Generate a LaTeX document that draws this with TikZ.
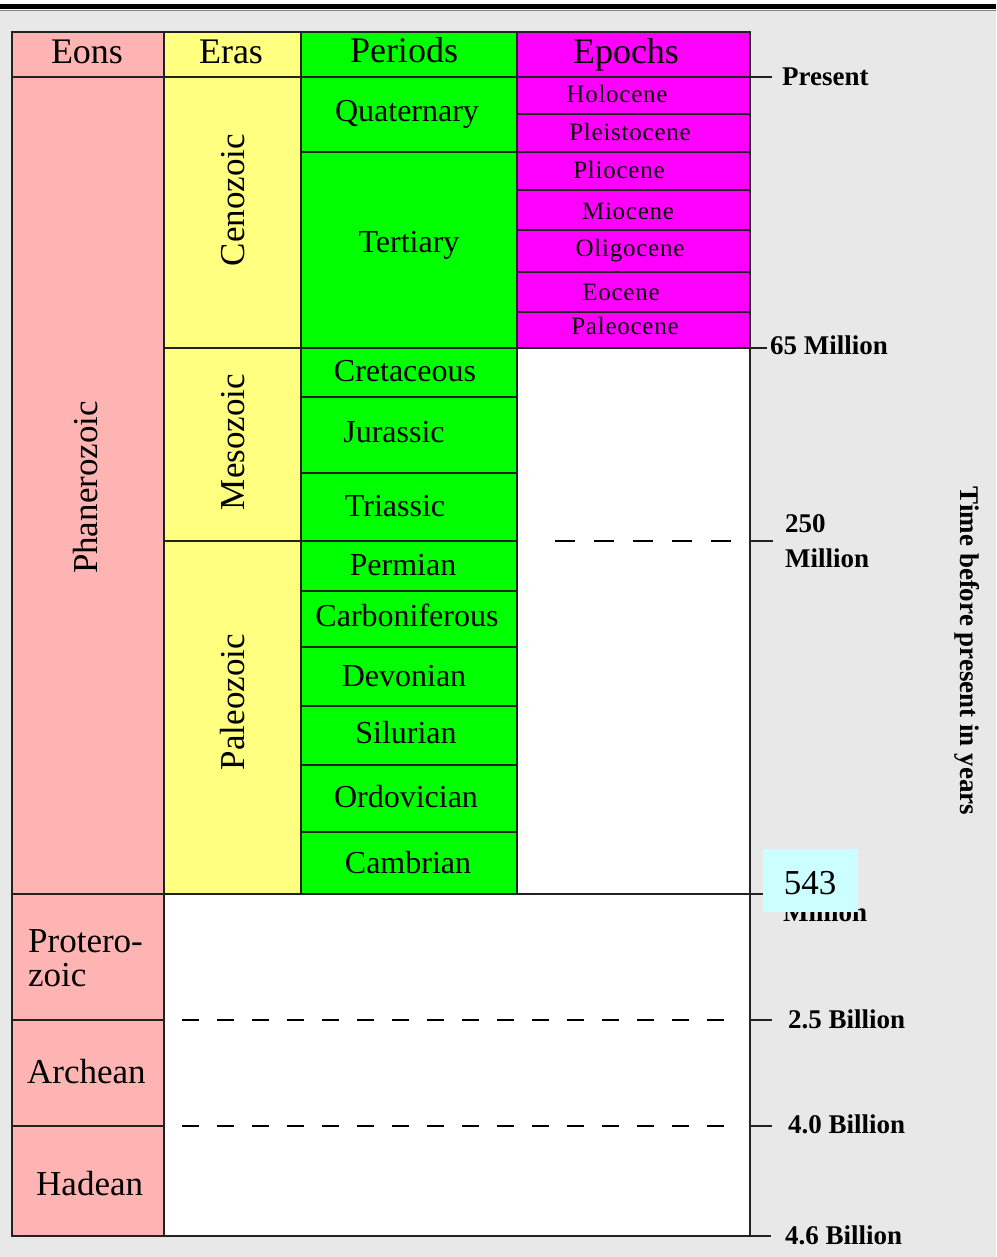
\documentclass[tikz,border=0pt]{standalone}
\usepackage{fontspec}
\setmainfont{Liberation Serif}
\definecolor{eon}{HTML}{FFB4B4}
\definecolor{era}{HTML}{FFFF80}
\definecolor{per}{HTML}{00FF00}
\definecolor{epo}{HTML}{FF00FF}
\definecolor{bg}{HTML}{E8E8E8}
\definecolor{note}{HTML}{CCFFFF}
\definecolor{rule}{HTML}{222222}
\begin{document}
\begin{tikzpicture}[x=1pt,y=-1pt,
  cell/.style={draw=rule,line width=1.3pt},
  txt/.style={inner sep=0, text depth=0pt},
  hdr/.style={txt, text height=23.8pt, font=\fontsize{36}{40}\selectfont},
  eontxt/.style={txt, text height=23.1pt, font=\fontsize{35}{34}\selectfont, anchor=west, align=left},
  bigtxt/.style={txt, text height=23.1pt, font=\fontsize{35}{40}\selectfont},
  eratxt/.style={bigtxt, rotate=90},
  pertxt/.style={txt, text height=21.1pt, font=\fontsize{32}{36}\selectfont},
  epotxt/.style={txt, text height=16.5pt, font=\fontsize{25}{30}\selectfont\addfontfeature{LetterSpace=3}},
  boldtxt/.style={txt, text height=17.8pt, font=\fontsize{27}{30}\selectfont\bfseries},
  agetxt/.style={boldtxt, anchor=west},
  tickline/.style={draw=rule, line width=1.3pt},
  gapline/.style={draw=black, line width=1.3pt, dash pattern=on 17pt off 18pt},
]
\useasboundingbox (0,0) rectangle (996,1257);
% page background
\fill[white] (0,0) rectangle (996,1257);
\fill[black] (0,4.5) rectangle (996,9.5);
\fill[bg] (0,10) rectangle (996,1257);
\draw[gray, line width=0.8pt] (0,10.2) -- (996,10.2);

% headers
\path[cell, fill=eon] (12,32) rectangle (164,77);
\path[cell, fill=era] (164,32) rectangle (301,77);
\path[cell, fill=per] (301,32) rectangle (517,77);
\path[cell, fill=epo] (517,32) rectangle (750,77);
\node[hdr] (heons) at (87,52) {Eons};
\node[hdr] (heras) at (231,52) {Eras};
\node[hdr] (hperiods) at (404,51) {Periods};
\node[hdr] (hepochs) at (626,52) {Epochs};

% eons
\path[cell, fill=eon] (12,77) rectangle (164,894);
\path[cell, fill=eon] (12,894) rectangle (164,1020);
\path[cell, fill=eon] (12,1020) rectangle (164,1126);
\path[cell, fill=eon] (12,1126) rectangle (164,1236);
\node[bigtxt, rotate=90] (phanerozoic) at (86,487.5) {Phanerozoic};
\node[eontxt] (proterozoic) at (28,975) {Protero-\\zoic};
\node[eontxt] (archean) at (27,1072) {Archean};
\node[eontxt] (hadean) at (36,1183.5) {Hadean};

% eras
\path[cell, fill=era] (164,77) rectangle (301,348);
\path[cell, fill=era] (164,348) rectangle (301,541);
\path[cell, fill=era] (164,541) rectangle (301,894);
\node[eratxt] (cenozoic) at (232.5,200) {Cenozoic};
\node[eratxt] (mesozoic) at (232.5,442) {Mesozoic};
\node[eratxt] (paleozoic) at (232.5,702) {Paleozoic};

% periods
\path[cell, fill=per] (301,77) rectangle (517,152);
\path[cell, fill=per] (301,152) rectangle (517,348);
\path[cell, fill=per] (301,348) rectangle (517,397);
\path[cell, fill=per] (301,397) rectangle (517,473);
\path[cell, fill=per] (301,473) rectangle (517,541);
\path[cell, fill=per] (301,541) rectangle (517,591);
\path[cell, fill=per] (301,591) rectangle (517,647);
\path[cell, fill=per] (301,647) rectangle (517,706);
\path[cell, fill=per] (301,706) rectangle (517,765);
\path[cell, fill=per] (301,765) rectangle (517,832);
\path[cell, fill=per] (301,832) rectangle (517,894);
\node[pertxt] (quaternary) at (407,111) {Quaternary};
\node[pertxt] (tertiary) at (409,242) {Tertiary};
\node[pertxt] (cretaceous) at (405,371) {Cretaceous};
\node[pertxt] (jurassic) at (394,432) {Jurassic};
\node[pertxt] (triassic) at (395,506) {Triassic};
\node[pertxt] (permian) at (403,565) {Permian};
\node[pertxt] (carboniferous) at (407,616) {Carboniferous};
\node[pertxt] (devonian) at (404,676) {Devonian};
\node[pertxt] (silurian) at (406,733) {Silurian};
\node[pertxt] (ordovician) at (406,797) {Ordovician};
\node[pertxt] (cambrian) at (408,863) {Cambrian};

% epochs
\path[cell, fill=epo] (517,77) rectangle (750,114);
\path[cell, fill=epo] (517,114) rectangle (750,152);
\path[cell, fill=epo] (517,152) rectangle (750,190);
\path[cell, fill=epo] (517,190) rectangle (750,230);
\path[cell, fill=epo] (517,230) rectangle (750,272);
\path[cell, fill=epo] (517,272) rectangle (750,312);
\path[cell, fill=epo] (517,312) rectangle (750,348);
\node[epotxt] (holocene) at (617,94.5) {Holocene};
\node[epotxt] (pleistocene) at (630,132) {Pleistocene};
\node[epotxt] (pliocene) at (619,170.5) {Pliocene};
\node[epotxt] (miocene) at (628,211) {Miocene};
\node[epotxt] (oligocene) at (630,248) {Oligocene};
\node[epotxt] (eocene) at (621,292.5) {Eocene};
\node[epotxt] (paleocene) at (625,326) {Paleocene};

% empty white areas
\path[cell, fill=white] (517,348) rectangle (750,894);
\path[cell, fill=white] (164,894) rectangle (750,1236);

% dashed boundaries
\draw[draw=black, line width=1.3pt, dash pattern=on 20pt off 19pt] (555,541) -- (733,541);
\draw[gapline] (182,1020) -- (735,1020);
\draw[gapline] (182,1126) -- (735,1126);

% axis ticks and labels
\draw[tickline] (750,77) -- (772,77);
\draw[tickline] (750,348) -- (767,348);
\draw[tickline] (750,541) -- (773,541);
\draw[tickline] (750,894) -- (763,894);
\draw[tickline] (750,1020) -- (772,1020);
\draw[tickline] (750,1126) -- (772,1126);
\draw[tickline] (750,1236) -- (771,1236);
\node[agetxt] (present) at (782,76.5) {Present};
\node[agetxt] (m65) at (770,346) {65 Million};
\node[agetxt] (m250a) at (785,524) {250};
\node[agetxt] (m250b) at (785,558.5) {Million};
\node[agetxt] (m543b) at (783,913) {Million};
\node[fill=note, minimum width=95pt, minimum height=63pt, inner sep=0] (m543) at (810.5,880.5) {};
\node[bigtxt] (m543t) at (810,882.5) {543};
\node[agetxt] (b25) at (788,1019.5) {2.5 Billion};
\node[agetxt] (b40) at (788,1125) {4.0 Billion};
\node[agetxt] (b46) at (785,1235.5) {4.6 Billion};
\node[boldtxt, rotate=-90] (axislabel) at (969,651) {Time before present in years};
\end{tikzpicture}
\end{document}
